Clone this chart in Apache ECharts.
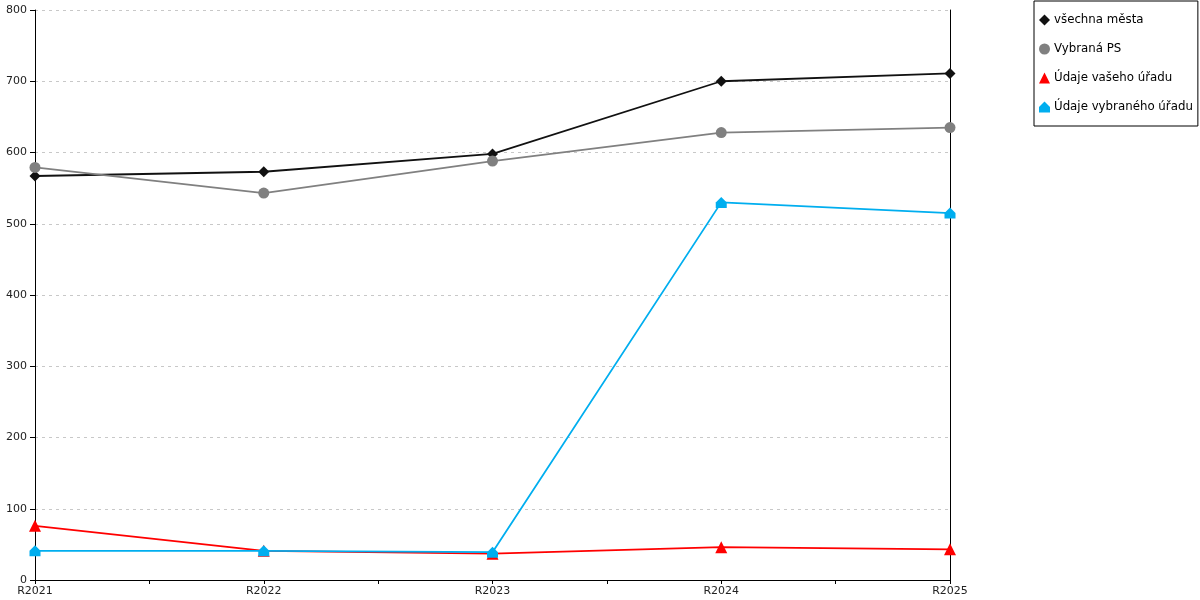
<!DOCTYPE html>
<html>
<head>
<meta charset="utf-8">
<script src="https://cdn.jsdelivr.net/npm/echarts@6/dist/echarts.min.js"></script>
<style>
  html, body { margin: 0; padding: 0; background: #fff; }
  #chart { width: 1200px; height: 600px; }
</style>
</head>
<body>
<div id="chart"></div>
<script>
// data
const years = ['R2021', 'R2022', 'R2023', 'R2024', 'R2025'];
const vsechnaMesta = [567, 573, 598, 700, 711];
const vybranaPS = [579, 543, 588, 628, 635];
const udajeVasehoUradu = [76, 41, 37, 46, 43];
const udajeVybranehoUradu = [41, 41, 39, 530, 515];
const yTicks = [0, 100, 200, 300, 400, 500, 600, 700, 800];

const houseSymbol = 'path://M0,5 L5,0 L10,5 L10,10 L0,10 Z';
const font = 'DejaVu Sans';

// x is a value axis so the tick marks can sit halfway between the years
let toPairs = function (arr) {
    return arr.map(function (v, i) { return [i, v]; });
};

let makeSeries = function (name, data, color, symbol, size) {
    return {
        name: name,
        type: 'line',
        data: toPairs(data),
        symbol: symbol,
        symbolSize: size,
        showSymbol: true,
        lineStyle: { color: color, width: 1.8 },
        itemStyle: { color: color },
        emphasis: { disabled: true },
        z: 3
    };
};

const chart = echarts.init(document.getElementById('chart'));
const option = {
    animation: false,
    textStyle: { fontFamily: font },
    grid: { left: 35, right: 250, top: 10, bottom: 20, containLabel: false },
    legend: {
        orient: 'vertical',
        left: 1034,
        top: 1,
        padding: [13, 5, 13, 5],
        borderColor: '#000',
        borderWidth: 1,
        itemWidth: 11,
        itemHeight: 11,
        itemGap: 17,
        textStyle: { fontFamily: font, fontSize: 11.8, color: '#000', padding: [0, 0, 0, -1] },
        data: [
            { name: 'všechna města', icon: 'diamond' },
            { name: 'Vybraná PS', icon: 'circle' },
            { name: 'Údaje vašeho úřadu', icon: 'triangle' },
            { name: 'Údaje vybraného úřadu', icon: houseSymbol }
        ]
    },
    xAxis: {
        type: 'value',
        min: 0,
        max: years.length - 1,
        interval: 0.5,
        axisLine: { show: true, lineStyle: { color: '#000', width: 1 } },
        axisTick: { show: true, length: 4, lineStyle: { color: '#000' } },
        splitLine: { show: false },
        axisLabel: {
            color: '#222',
            fontSize: 11,
            margin: 6,
            fontFamily: font,
            formatter: function (v) {
                return Number.isInteger(v) ? years[v] : '';
            }
        }
    },
    yAxis: [
        {
            type: 'value',
            min: yTicks[0],
            max: yTicks[yTicks.length - 1],
            interval: 100,
            axisLine: { show: true, lineStyle: { color: '#000', width: 1 } },
            axisTick: { show: true, length: 5, lineStyle: { color: '#000' } },
            axisLabel: { color: '#222', fontSize: 11, margin: 8, fontFamily: font },
            splitLine: { show: true, lineStyle: { color: '#c8c8c8', type: [3, 4], width: 1 } }
        },
        {
            type: 'value',
            position: 'right',
            min: yTicks[0],
            max: yTicks[yTicks.length - 1],
            interval: 100,
            axisLine: { show: true, lineStyle: { color: '#000', width: 1 } },
            axisTick: { show: false },
            axisLabel: { show: false },
            splitLine: { show: false }
        }
    ],
    series: [
        makeSeries('všechna města', vsechnaMesta, '#111', 'diamond', 11),
        makeSeries('Vybraná PS', vybranaPS, '#808080', 'circle', 11),
        makeSeries('Údaje vašeho úřadu', udajeVasehoUradu, '#ff0000', 'triangle', 12),
        makeSeries('Údaje vybraného úřadu', udajeVybranehoUradu, '#00aeef', houseSymbol, 11)
    ]
};
chart.setOption(option);
</script>
</body>
</html>
